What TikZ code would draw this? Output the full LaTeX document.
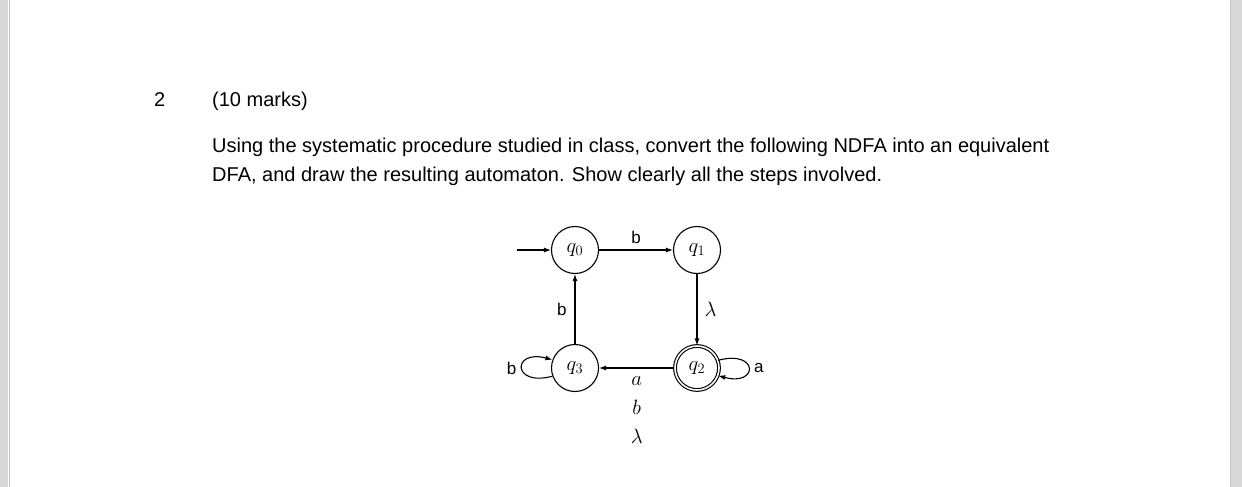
\documentclass[tikz,border=0pt]{standalone}
\usepackage{fontspec}
\setmainfont{Liberation Sans}
\usetikzlibrary{arrows.meta}
\definecolor{pagegrey}{HTML}{D8D8D8}
\definecolor{edgegrey}{HTML}{C4C4C4}
\tikzset{
  state/.style={circle,draw,line width=1.1pt,minimum size=47pt,inner sep=0pt,font=\fontsize{21}{24}\selectfont},
  accept/.style={state,double,double distance=1.6pt,minimum size=44pt},
  edge/.style={line width=1.1pt,-{Latex[length=7pt,width=5pt]}},
  lbl/.style={font=\fontsize{17}{18}\selectfont,inner sep=0pt},
  mlbl/.style={font=\fontsize{21}{24}\selectfont,inner sep=0pt},
  body/.style={font=\fontsize{20}{29}\selectfont,inner sep=0pt,anchor=base west,align=left}
}
\begin{document}
\begin{tikzpicture}[x=1pt,y=-1pt]
\useasboundingbox (0,0) rectangle (1242,487);
\fill[white] (0,0) rectangle (1242,487);
\fill[pagegrey] (0,0) rectangle (8,487);
\draw[edgegrey,line width=1pt] (9,0) -- (9,487);
\fill[pagegrey] (1231,0) rectangle (1242,487);
\draw[edgegrey,line width=1pt] (1230,0) -- (1230,487);

\node[body] (num) at (154,106) {2};
\node[body] (marks) at (212,106) {(10 marks)};
\node[body] (l1) at (212,152) {Using the systematic procedure studied in class, convert the following NDFA into an equivalent};
\node[body] (l2) at (212,181) {DFA, and draw the resulting automaton. Show clearly all the steps involved.};

\node[state] (q0) at (575,250) {$q_0$};
\node[state] (q1) at (697,250) {$q_1$};
\node[state] (q3) at (575,368) {$q_3$};
\node[accept] (q2) at (697,368) {$q_2$};
\coordinate (init) at (517,250);

\draw[edge] (init) -- (q0);
\draw[edge] (q0) -- node[lbl,above=6pt] {b} (q1);
\draw[edge] (q1) -- node[mlbl,right=7pt] {$\lambda$} (q2);
\draw[edge] (q3) -- node[lbl,left=8pt] {b} (q0);
\path (q2) -- node[mlbl,below=8pt,align=center] (abl) {$a$\\[5pt]$b$\\[5pt]$\lambda$} (q3);
\draw[edge] (q2) -- (q3);
\draw[edge] (q3.200) .. controls +(165:42) and +(195:42) .. node[lbl,left=5pt] {b} (q3.160);
\draw[edge] (q2.20) .. controls +(-15:42) and +(15:42) .. node[lbl,right=5pt] {a} (q2.-20);
\end{tikzpicture}
\end{document}
